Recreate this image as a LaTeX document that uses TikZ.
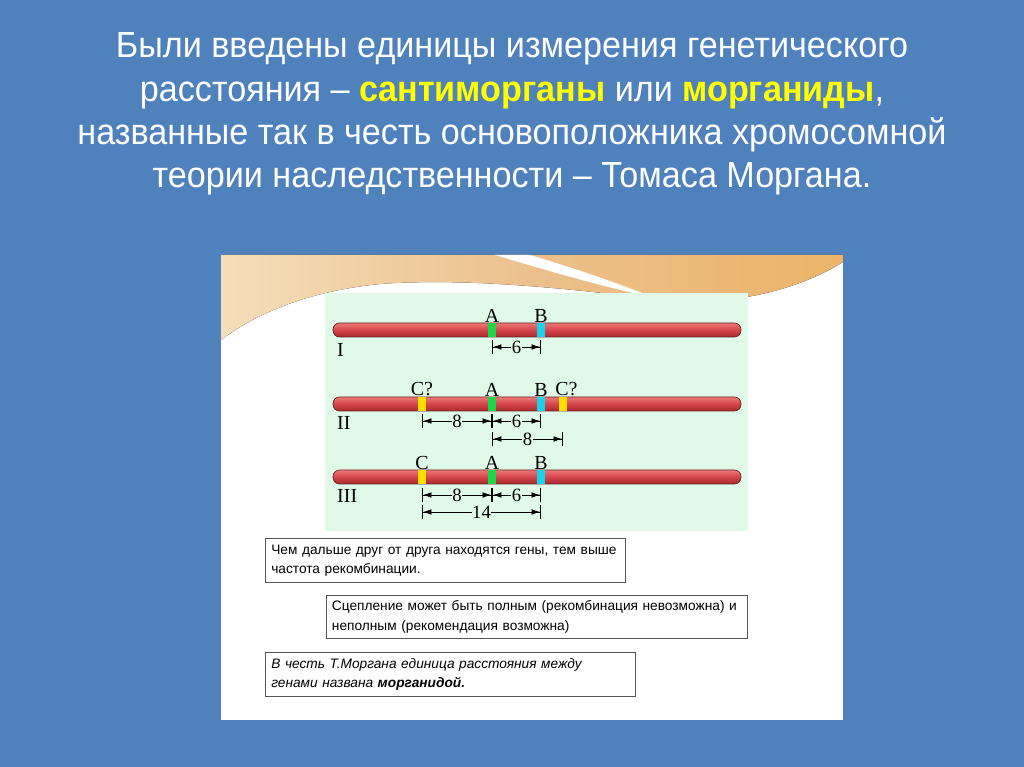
\documentclass[tikz,border=0pt]{standalone}
\usepackage{fontspec}
\setmainfont{Liberation Sans}
\newfontfamily\titlefont[FakeStretch=0.94]{Liberation Sans}
\newfontfamily\genefont{Liberation Serif}
\usetikzlibrary{positioning}
\usetikzlibrary{arrows.meta}

\definecolor{slideblue}{RGB}{79,129,189}
\definecolor{panelgreen}{RGB}{225,249,233}
\definecolor{chromtop}{RGB}{238,120,120}
\definecolor{chromred}{RGB}{212,70,74}
\definecolor{chrombot}{RGB}{170,40,45}
\definecolor{chromdark}{RGB}{100,35,35}
\definecolor{genegreen}{RGB}{30,215,70}
\definecolor{genecyan}{RGB}{25,210,235}
\definecolor{geneyellow}{RGB}{255,222,0}
\definecolor{titleyellow}{RGB}{255,255,0}
\definecolor{wavelight}{RGB}{244,222,186}
\definecolor{wavemid}{RGB}{236,192,140}
\definecolor{wavedark}{RGB}{235,180,105}
\definecolor{boxline}{RGB}{85,85,85}

\tikzset{
  chrom/.style={draw=chromdark, line width=0.6pt, rounded corners=0.2cm,
    top color=chromtop, bottom color=chrombot, middle color=chromred,
    minimum width=12.24cm, minimum height=0.42cm, inner sep=0pt},
  gene/.style={fill=#1, minimum width=0.24cm, minimum height=0.4cm, inner sep=0pt},
  glabel/.style={font=\genefont\fontsize{17}{17}\selectfont, inner sep=0.5pt, anchor=south},
  numlabel/.style={font=\genefont\fontsize{17}{17}\selectfont, inner sep=0pt, anchor=west},
  dimline/.style={line width=0.7pt,
    {Bar[width=0.4cm]Latex[length=0.26cm,width=0.17cm]}-{Latex[length=0.26cm,width=0.17cm]Bar[width=0.4cm]}},
  dimtext/.style={font=\genefont\fontsize{16}{16}\selectfont, fill=panelgreen, inner sep=0.5pt},
  textbox/.style={draw=boxline, line width=0.8pt, fill=white, anchor=north west,
    align=left, inner xsep=0.15cm, inner ysep=0.1cm,
    font=\fontsize{11.7}{16.5}\selectfont}
}

\begin{document}
\begin{tikzpicture}[x=0.03cm, y=-0.03cm]
  \useasboundingbox (0,0) rectangle (1024,767);
  \fill[slideblue] (0,0) rectangle (1024,767);

  % heading
  \node[text=white, align=center, font=\titlefont\fontsize{31}{37}\selectfont] (title) at (512,114)
    {Были введены единицы измерения генетического\\
     расстояния – {\bfseries\color{titleyellow}сантиморганы} или {\bfseries\color{titleyellow}морганиды},\\
     названные так в честь основоположника хромосомной\\
     теории наследственности – Томаса Моргана.};

  % picture panel
  \fill[white] (221,255) rectangle (843,720);
  \fill[left color=wavelight, right color=wavedark, middle color=wavemid]
    (221,255) -- (843,255) -- (843,262)
    .. controls (790,295) and (720,306) .. (660,300)
    .. controls (560,287) and (460,278) .. (380,284)
    .. controls (300,292) and (250,318) .. (221,340) -- cycle;
  \fill[white] (495,255) -- (530,255) .. controls (580,270) and (620,284) .. (655,298)
    .. controls (600,286) and (545,270) .. cycle;
  \fill[panelgreen] (325,293) rectangle (748,531);

  % chromosome I
  \node[chrom] (chr1) at (537,330) {};
  \node[gene=genegreen] (gA1) at (492,330) {};
  \node[gene=genecyan] (gB1) at (541,330) {};
  \node[glabel] at (gA1.north) {A};
  \node[glabel] at (gB1.north) {B};
  \node[numlabel] at (337,350) {I};
  \coordinate (d1) at (0,347);
  \draw[dimline] (gA1 |- d1) -- node[dimtext] {6} (gB1 |- d1);

  % chromosome II
  \node[chrom] (chr2) at (537,404) {};
  \node[gene=geneyellow] (gC2) at (422,404) {};
  \node[gene=genegreen] (gA2) at (492,404) {};
  \node[gene=genecyan] (gB2) at (541,404) {};
  \node[gene=geneyellow] (gD2) at (563,404) {};
  \node[glabel] at (gC2.north) {C?};
  \node[glabel] at (gA2.north) {A};
  \node[glabel] at (gB2.north) {B};
  \node[glabel] at ([xshift=3pt]gD2.north) {C?};
  \node[numlabel] at (337,423) {II};
  \coordinate (d2) at (0,421);
  \coordinate (d3) at (0,439);
  \draw[dimline] (gC2 |- d2) -- node[dimtext] {8} (gA2 |- d2);
  \draw[dimline] (gA2 |- d2) -- node[dimtext] {6} (gB2 |- d2);
  \draw[dimline] (gA2 |- d3) -- node[dimtext] {8} (gD2 |- d3);

  % chromosome III
  \node[chrom] (chr3) at (537,477) {};
  \node[gene=geneyellow] (gC3) at (422,477) {};
  \node[gene=genegreen] (gA3) at (492,477) {};
  \node[gene=genecyan] (gB3) at (541,477) {};
  \node[glabel] at (gC3.north) {C};
  \node[glabel] at (gA3.north) {A};
  \node[glabel] at (gB3.north) {B};
  \node[numlabel] at (337,496) {III};
  \coordinate (d4) at (0,495);
  \coordinate (d5) at (0,512);
  \draw[dimline] (gC3 |- d4) -- node[dimtext] {8} (gA3 |- d4);
  \draw[dimline] (gA3 |- d4) -- node[dimtext] {6} (gB3 |- d4);
  \draw[dimline] (gC3 |- d5) -- node[dimtext] {14} (gB3 |- d5);

  % text boxes
  \node[textbox, minimum width=10.8cm, minimum height=1.32cm, text width=10.45cm] (box1) at (265,538)
    {Чем дальше друг от друга находятся гены, тем выше\\ частота рекомбинации.};
  \node[textbox, minimum width=12.63cm, minimum height=1.29cm, text width=12.3cm] (box2) at (326,595)
    {Сцепление может быть полным (рекомбинация невозможна) и\\ неполным (рекомендация возможна)};
  \node[textbox, minimum width=11.1cm, minimum height=1.32cm, text width=10.75cm] (box3) at (265,652)
    {\itshape В честь Т.Моргана единица расстояния между\\ генами названа \textbf{морганидой.}};
\end{tikzpicture}
\end{document}
